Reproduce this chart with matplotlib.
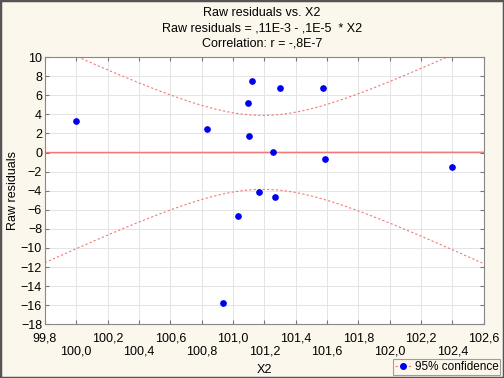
import numpy as np
import matplotlib
matplotlib.use("Agg")
import matplotlib.pyplot as plt
from matplotlib.lines import Line2D
from matplotlib.patches import Rectangle

plt.rcParams['font.family'] = ['Liberation Sans', 'DejaVu Sans']

# data
x2 = [100.00, 100.835, 101.095, 101.103, 101.12, 101.30, 101.571, 101.252,
      101.59, 102.398, 101.167, 101.27, 101.029, 100.937]
raw_resid = [3.27, 2.46, 5.22, 1.70, 7.53, 6.79, 6.76, 0.05,
             -0.68, -1.55, -4.17, -4.70, -6.69, -15.78]
x_ticks = [99.8, 100.0, 100.2, 100.4, 100.6, 100.8, 101.0, 101.2,
           101.4, 101.6, 101.8, 102.0, 102.2, 102.4, 102.6]
y_ticks = list(range(-18, 11, 2))

x = np.array(x2)
y = np.array(raw_resid)
n = len(x)

# regression line and 95% confidence band
b, a = np.polyfit(x, y, 1)
resid = y - (a + b * x)
s = np.sqrt(np.sum(resid ** 2) / (n - 2))
sxx = np.sum((x - x.mean()) ** 2)
t_crit = 2.1788  # t(0.975, df=12)
xs = np.linspace(99.8, 102.6, 300)
fit = a + b * xs
half = t_crit * s * np.sqrt(1.0 / n + (xs - x.mean()) ** 2 / sxx)

bg = '#FCF7EC'
line_col = '#F07878'
fs = 9

fig = plt.figure(figsize=(5.04, 3.78), dpi=100, facecolor=bg)
ax = fig.add_axes([0.089, 0.142, 0.871, 0.707])
ax.set_facecolor('white')

ax.plot(xs, fit, color=line_col, lw=1.0)
ax.plot(xs, fit + half, color=line_col, lw=0.8, ls=(0, (2, 2)))
ax.plot(xs, fit - half, color=line_col, lw=0.8, ls=(0, (2, 2)))
ax.plot(x, y, 'o', color='#0000EE', ms=3.8, mec='#0000EE')

ax.set_xlim(99.8, 102.6)
ax.set_ylim(-18, 10)
ax.set_xticks(x_ticks)
labels = []
for i, v in enumerate(x_ticks):
    txt = f'{v:.1f}'.replace('.', ',')
    labels.append(txt if i % 2 == 0 else '\n' + txt)
ax.set_xticklabels(labels, linespacing=1.05)
ax.set_yticks(y_ticks)
ax.grid(True, color='#E4E4E4', lw=0.7)
ax.set_axisbelow(True)
ax.tick_params(direction='in', length=3, labelsize=fs, top=True, right=True,
               labelright=False, labeltop=False, color='#777777', pad=2)
ax.tick_params(axis='x', pad=6)
for sp in ax.spines.values():
    sp.set_color('#888888')
    sp.set_linewidth(0.8)

ax.set_xlabel('X2', fontsize=fs, labelpad=5)
ax.set_ylabel('Raw residuals', fontsize=fs, labelpad=1)

fig.text(0.52, 0.965, 'Raw residuals vs. X2', ha='center', va='center', fontsize=fs)
fig.text(0.52, 0.925, 'Raw residuals = ,11E-3 - ,1E-5  * X2', ha='center', va='center', fontsize=fs)
fig.text(0.52, 0.886, 'Correlation: r = -,8E-7', ha='center', va='center', fontsize=fs)

handle = Line2D([0], [0], color=line_col, lw=0.8, ls=(0, (2, 2)),
                marker='o', ms=4, mfc='#0000EE', mec='#0000EE')
leg = fig.legend([handle], ['95% confidence'], loc='lower right',
                 bbox_to_anchor=(0.993, 0.008), fontsize=8.5, frameon=True,
                 fancybox=False, handlelength=1.4, borderpad=0.15,
                 handletextpad=0.3, borderaxespad=0.0)
leg.get_frame().set_edgecolor('#888888')
leg.get_frame().set_facecolor(bg)
leg.get_frame().set_linewidth(0.8)

fig.patches.append(Rectangle((0, 0), 1, 1, transform=fig.transFigure,
                             fill=False, edgecolor='#555555', lw=2.5))

fig.savefig('out.png', dpi=100, facecolor=bg)
